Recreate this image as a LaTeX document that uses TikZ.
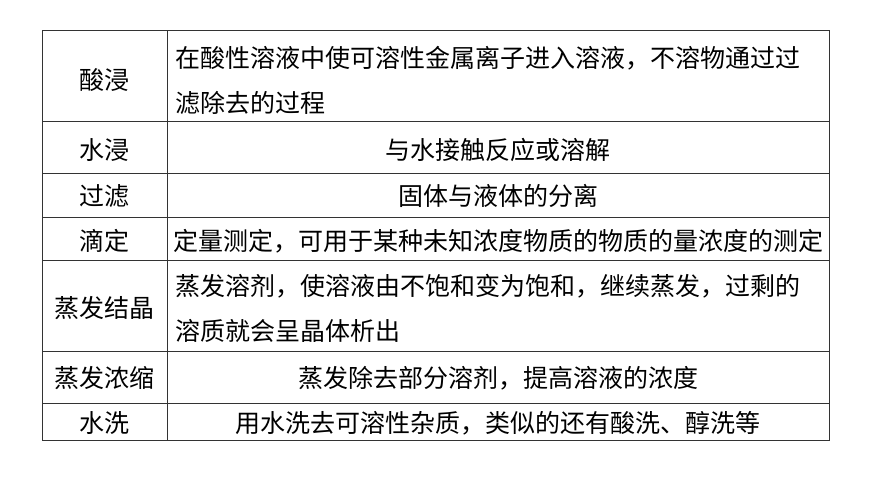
\documentclass[tikz,border=0pt]{standalone}
\usepackage{fontspec}
\newfontfamily\cjk{Noto Sans CJK SC}
\usetikzlibrary{positioning}

\tikzset{
    cell/.style={font=\cjk\fontsize{25}{45}\selectfont, inner sep=0pt, text=black},
    leftcell/.style={cell, align=left, anchor=west},
    rule/.style={draw=black!80, line width=1pt}
}

\begin{document}
\begin{tikzpicture}[x=1pt, y=-1pt]
\useasboundingbox (0,0) rectangle (870,489);

\draw[rule] (42,31) rectangle (829,440);
\draw[rule] (167,31) -- (167,440);
\foreach \y in {122,174,218,260,351,403}
    \draw[rule] (42,\y) -- (829,\y);

\node[cell] (k1) at (104.5,80) {酸浸};
\node[leftcell] (v1) at (175,80) {在酸性溶液中使可溶性金属离子进入溶液，不溶物通过过\\滤除去的过程};

\node[cell] (k2) at (104.5,150) {水浸};
\node[cell] (v2) at (498,150) {与水接触反应或溶解};

\node[cell] (k3) at (104.5,196) {过滤};
\node[cell] (v3) at (498,196) {固体与液体的分离};

\node[cell] (k4) at (104.5,241) {滴定};
\node[cell] (v4) at (498,241) {定量测定，可用于某种未知浓度物质的物质的量浓度的测定};

\node[cell] (k5) at (104.5,308) {蒸发结晶};
\node[leftcell] (v5) at (175,308) {蒸发溶剂，使溶液由不饱和变为饱和，继续蒸发，过剩的\\溶质就会呈晶体析出};

\node[cell] (k6) at (104.5,378) {蒸发浓缩};
\node[cell] (v6) at (498,378) {蒸发除去部分溶剂，提高溶液的浓度};

\node[cell] (k7) at (104.5,423) {水洗};
\node[cell] (v7) at (498,423) {用水洗去可溶性杂质，类似的还有酸洗、醇洗等};

\end{tikzpicture}
\end{document}
